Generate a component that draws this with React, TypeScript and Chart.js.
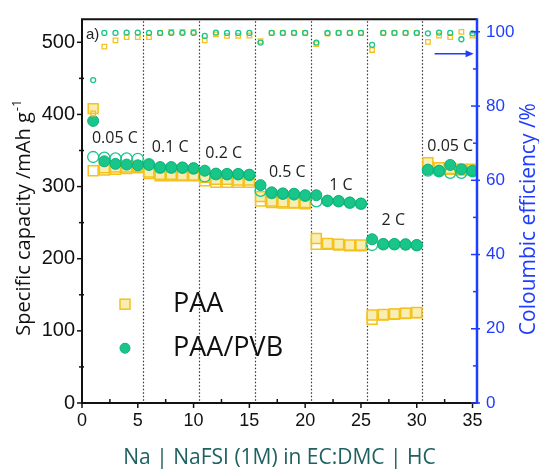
import React, { useEffect, useRef } from 'react';
import { Chart, registerables } from 'chart.js';

Chart.register(...registerables);

// ---------------- data ----------------
const cycles = [
  1, 2, 3, 4, 5, 6, 7, 8, 9, 10, 11, 12, 13, 14, 15, 16, 17, 18, 19, 20,
  21, 22, 23, 24, 25, 26, 27, 28, 29, 30, 31, 32, 33, 34, 35,
];

// PAA discharge (filled squares), mAh/g
const paaDischarge = [
  408, 326, 327, 327, 328,
  320, 317, 317, 316, 316,
  313, 310, 310, 309, 309,
  286, 280, 279, 278, 278,
  228, 221, 220, 219, 219,
  122, 122.7, 123.6, 124.6, 125.4,
  333, 326, 325, 324, 324,
];

// PAA charge (open squares), mAh/g
const paaCharge = [
  322, 323, 324, 325, 326,
  318, 315, 315, 315, 315,
  308, 306, 306, 306, 306,
  280, 278, 277, 277, 276,
  220, 220, 219, 218, 218,
  116, 122, 123, 124, 125,
  327, 325, 324, 323, 323,
];

// PAA/PVB discharge (filled circles), mAh/g
const pvbDischarge = [
  391, 335, 331.5, 330.5, 329.5,
  330, 327, 327, 326.5, 325.5,
  322, 318, 317.5, 317.5, 316.5,
  302, 292, 290.5, 290, 288,
  288, 280.5, 280, 278, 276.5,
  227, 220.5, 220.5, 220, 219,
  323.5, 322, 330, 324, 322,
];

// PAA/PVB charge (open circles), mAh/g
const pvbCharge = [
  341, 340, 339, 339, 338.5,
  331, 326, 326, 326, 325,
  314, 317, 317, 317, 316,
  294, 291, 290, 289, 287,
  279.5, 280, 279.5, 277.5, 276,
  219, 220, 220, 219.5, 218.5,
  322, 321, 319, 319, 321,
];

// Coulombic efficiency, %
const paaCE = [
  78, 96, 97.7, 98.6, 98.6,
  98.6, 99.7, 100, 100, 100,
  97.7, 99.3, 98.9, 98.9, 99.0,
  97.5, 99.7, 99.7, 99.7, 99.7,
  96.7, 99.5, 99.7, 99.7, 99.7,
  95.1, 99.7, 99.7, 99.7, 99.7,
  97.3, 99.0, 98.6, 100, 99.0,
];

const pvbCE = [
  87, 99.7, 99.7, 99.8, 99.8,
  99.7, 99.7, 99.7, 99.7, 99.7,
  98.9, 99.8, 99.7, 99.7, 99.7,
  97.1, 99.7, 99.7, 99.7, 99.7,
  97.1, 99.7, 99.7, 99.7, 99.7,
  96.5, 99.7, 99.7, 99.7, 99.7,
  99.6, 99.8, 99.7, 98.0, 99.6,
];

// rate annotations (anchor in data units: cycle, capacity)
const rateLabels = ['0.05 C', '0.1 C', '0.2 C', '0.5 C', '1 C', '2 C', '0.05 C'];
const rateLabelCycle = [2.95, 7.9, 12.7, 18.4, 23.2, 27.9, 33.0];
const rateLabelCapacity = [367, 354, 346, 319, 301.5, 253, 356];

// boundaries between rate steps
const rateBoundaries = [5.5, 10.5, 15.5, 20.5, 25.5, 30.5];

// axis ticks
const capMajorTicks = [0, 100, 200, 300, 400, 500];
const capMinorTicks = [50, 150, 250, 350, 450];
const ceMajorTicks = [0, 20, 40, 60, 80, 100];
const ceMinorTicks = [10, 30, 50, 70, 90];
const cycleMajorTicks = [0, 5, 10, 15, 20, 25, 30, 35];
const cycleMinorTicks = [2.5, 7.5, 12.5, 17.5, 22.5, 27.5, 32.5];

const legendLabels = ['PAA', 'PAA/PVB'];

// ---------------- styles ----------------
const YELLOW = '#F5C11C';
const YELLOW_FILL = '#F8EEB4';
const GREEN = '#17C688';
const GREEN_DARK = '#10B079';
const BLUE = '#1F3DFF';
const TEAL = '#1F6161';
const TEXT_FONT = '"Open Sans", "Noto Sans", sans-serif';
const NUM_FONT = '"Liberation Sans", Arial, sans-serif';

const pts = (arr: number[]) => cycles.map((c, i) => ({ x: c, y: arr[i] }));

const decorPlugin = {
  id: 'decor',
  beforeDatasetsDraw(chart: any) {
    const { ctx, chartArea } = chart;
    const x = chart.scales.x;
    const { top, bottom } = chartArea;
    ctx.save();
    // dotted separators
    ctx.strokeStyle = '#333';
    ctx.lineWidth = 1.2;
    ctx.setLineDash([1.5, 2]);
    rateBoundaries.forEach((b) => {
      const px = Math.round(x.getPixelForValue(b)) + 0.5;
      ctx.beginPath();
      ctx.moveTo(px, top + 2);
      ctx.lineTo(px, bottom - 2);
      ctx.stroke();
    });
    ctx.setLineDash([]);

    // rate labels
    ctx.fillStyle = '#222';
    ctx.font = `16px ${TEXT_FONT}`;
    ctx.textAlign = 'center';
    ctx.textBaseline = 'middle';
    rateLabels.forEach((t, i) => {
      ctx.fillText(
        t,
        x.getPixelForValue(rateLabelCycle[i]),
        chart.scales.y.getPixelForValue(rateLabelCapacity[i])
      );
    });
    ctx.restore();
  },
  afterDraw(chart: any) {
    const { ctx, chartArea } = chart;
    const { left, right, top, bottom } = chartArea;
    const x = chart.scales.x;
    const y = chart.scales.y;
    const y1 = chart.scales.y1;
    ctx.save();

    // frame
    ctx.lineWidth = 2;
    ctx.strokeStyle = '#111';
    ctx.beginPath();
    ctx.moveTo(left, bottom);
    ctx.lineTo(left, top);
    ctx.lineTo(right, top);
    ctx.moveTo(left - 1, bottom);
    ctx.lineTo(right, bottom);
    ctx.stroke();

    // left ticks
    ctx.lineWidth = 1.5;
    capMajorTicks.forEach((v) => {
      const py = y.getPixelForValue(v);
      ctx.beginPath();
      ctx.moveTo(left - 5, py);
      ctx.lineTo(left, py);
      ctx.stroke();
    });
    capMinorTicks.forEach((v) => {
      const py = y.getPixelForValue(v);
      ctx.beginPath();
      ctx.moveTo(left - 3, py);
      ctx.lineTo(left + 2, py);
      ctx.stroke();
    });
    // bottom ticks
    cycleMajorTicks.forEach((v) => {
      const px = x.getPixelForValue(v);
      ctx.beginPath();
      ctx.moveTo(px, bottom);
      ctx.lineTo(px, bottom + 5);
      ctx.stroke();
    });
    cycleMinorTicks.forEach((v) => {
      const px = x.getPixelForValue(v);
      ctx.beginPath();
      ctx.moveTo(px, bottom);
      ctx.lineTo(px, bottom - 4);
      ctx.stroke();
    });

    // right axis
    ctx.strokeStyle = BLUE;
    ctx.lineWidth = 2.5;
    ctx.beginPath();
    ctx.moveTo(right, top - 1);
    ctx.lineTo(right, bottom + 1);
    ctx.stroke();
    ctx.lineWidth = 1.5;
    ceMajorTicks.forEach((v) => {
      const py = y1.getPixelForValue(v);
      ctx.beginPath();
      ctx.moveTo(right - 6, py);
      ctx.lineTo(right + 3, py);
      ctx.stroke();
    });
    ceMinorTicks.forEach((v) => {
      const py = y1.getPixelForValue(v);
      ctx.beginPath();
      ctx.moveTo(right - 4, py);
      ctx.lineTo(right, py);
      ctx.stroke();
    });

    // arrow toward CE axis
    const ay = y1.getPixelForValue(94.1);
    const ax0 = x.getPixelForValue(31.6);
    const ax1 = x.getPixelForValue(35.1);
    ctx.strokeStyle = BLUE;
    ctx.fillStyle = BLUE;
    ctx.lineWidth = 1.5;
    ctx.beginPath();
    ctx.moveTo(ax0, ay);
    ctx.lineTo(ax1 - 6, ay);
    ctx.stroke();
    ctx.beginPath();
    ctx.moveTo(ax1, ay);
    ctx.lineTo(ax1 - 8, ay - 3.5);
    ctx.lineTo(ax1 - 8, ay + 3.5);
    ctx.closePath();
    ctx.fill();

    // panel label
    ctx.fillStyle = '#222';
    ctx.font = `15px ${NUM_FONT}`;
    ctx.textAlign = 'left';
    ctx.textBaseline = 'middle';
    ctx.fillText('a)', left + 4, top + 16);

    // legend
    const lx = left + 43;
    const tx = left + 91;
    const ly = [top + 285, top + 329];
    ctx.fillStyle = YELLOW_FILL;
    ctx.strokeStyle = YELLOW;
    ctx.lineWidth = 1.5;
    ctx.fillRect(lx - 5, ly[0] - 5, 10, 10);
    ctx.strokeRect(lx - 5, ly[0] - 5, 10, 10);
    ctx.fillStyle = GREEN;
    ctx.strokeStyle = GREEN_DARK;
    ctx.lineWidth = 1;
    ctx.beginPath();
    ctx.arc(lx, ly[1], 5, 0, Math.PI * 2);
    ctx.fill();
    ctx.stroke();
    ctx.fillStyle = '#111';
    ctx.font = `27px ${TEXT_FONT}`;
    ctx.textBaseline = 'middle';
    legendLabels.forEach((t, i) => ctx.fillText(t, tx, ly[i]));

    // left axis title
    ctx.save();
    ctx.translate(24, (top + bottom) / 2 + 7);
    ctx.rotate(-Math.PI / 2);
    ctx.fillStyle = '#111';
    const main = 'Specific capacity /mAh g';
    ctx.font = `20px ${TEXT_FONT}`;
    const mw = ctx.measureText(main).width;
    ctx.font = `13px ${TEXT_FONT}`;
    const sw = ctx.measureText('-1').width;
    const start = -(mw + sw) / 2;
    ctx.textAlign = 'left';
    ctx.textBaseline = 'middle';
    ctx.font = `20px ${TEXT_FONT}`;
    ctx.fillText(main, start, 0);
    ctx.font = `13px ${TEXT_FONT}`;
    ctx.fillText('-1', start + mw + 1, -7);
    ctx.restore();

    // right axis title
    ctx.save();
    ctx.translate(529, (top + bottom) / 2 + 8);
    ctx.rotate(-Math.PI / 2);
    ctx.fillStyle = BLUE;
    ctx.font = `21px ${TEXT_FONT}`;
    ctx.textAlign = 'center';
    ctx.textBaseline = 'middle';
    ctx.fillText('Coloumbic efficiency /%', 0, 0);
    ctx.restore();

    ctx.restore();
  },
};

export default function App() {
  const ref = useRef<HTMLCanvasElement | null>(null);

  useEffect(() => {
    if (!ref.current) return;
    const chart = new Chart(ref.current, {
      type: 'line',
      data: {
        datasets: [
          {
            label: 'PAA/PVB CE',
            data: pts(pvbCE),
            yAxisID: 'y1',
            showLine: false,
            pointStyle: 'circle',
            pointRadius: 2.5,
            pointBorderWidth: 1.3,
            pointBackgroundColor: 'rgba(255,255,255,0)',
            pointBorderColor: GREEN,
          },
          {
            label: 'PAA CE',
            data: pts(paaCE),
            yAxisID: 'y1',
            showLine: false,
            pointStyle: 'rect',
            pointRadius: 3.2,
            pointBorderWidth: 1.3,
            pointBackgroundColor: 'rgba(255,255,255,0)',
            pointBorderColor: YELLOW,
          },
          {
            label: 'PAA/PVB discharge',
            data: pts(pvbDischarge),
            yAxisID: 'y',
            showLine: false,
            pointStyle: 'circle',
            pointRadius: 5.5,
            pointBorderWidth: 1,
            pointBackgroundColor: GREEN,
            pointBorderColor: GREEN_DARK,
          },
          {
            label: 'PAA/PVB charge',
            data: pts(pvbCharge),
            yAxisID: 'y',
            showLine: false,
            pointStyle: 'circle',
            pointRadius: 5.5,
            pointBorderWidth: 1.3,
            pointBackgroundColor: 'rgba(255,255,255,0)',
            pointBorderColor: GREEN,
          },
          {
            label: 'PAA discharge',
            data: pts(paaDischarge),
            yAxisID: 'y',
            showLine: false,
            pointStyle: 'rect',
            pointRadius: 7,
            pointBorderWidth: 1.5,
            pointBackgroundColor: YELLOW_FILL,
            pointBorderColor: YELLOW,
          },
          {
            label: 'PAA charge',
            data: pts(paaCharge),
            yAxisID: 'y',
            showLine: false,
            pointStyle: 'rect',
            pointRadius: 7,
            pointBorderWidth: 1.5,
            pointBackgroundColor: 'rgba(255,255,255,0)',
            pointBorderColor: YELLOW,
          },
        ],
      },
      options: {
        responsive: false,
        animation: false,
        devicePixelRatio: 1,
        layout: { padding: { top: 6, left: 0, right: 0, bottom: 0 } },
        plugins: {
          legend: { display: false },
          tooltip: { enabled: false },
        },
        events: [],
        scales: {
          x: {
            type: 'linear',
            position: 'bottom',
            min: 0,
            max: 35.4,
            grid: { display: false, drawTicks: false },
            border: { display: false },
            ticks: {
              stepSize: 5,
              includeBounds: false,
              padding: 7,
              color: '#111',
              font: { family: NUM_FONT, size: 18 },
              maxRotation: 0,
            },
            title: {
              display: true,
              text: 'Na | NaFSI (1M) in EC:DMC | HC',
              color: TEAL,
              font: { family: TEXT_FONT, size: 21 },
              padding: { top: 0, bottom: 0 },
            },
            afterFit(scale: any) {
              scale.height = 68;
            },
          },
          y: {
            type: 'linear',
            position: 'left',
            min: 0,
            max: 532,
            grid: { display: false, drawTicks: false },
            border: { display: false },
            ticks: {
              stepSize: 100,
              includeBounds: false,
              padding: 7,
              color: '#111',
              font: { family: NUM_FONT, size: 20 },
            },
            afterFit(scale: any) {
              scale.width = 82;
            },
          },
          y1: {
            type: 'linear',
            position: 'right',
            min: 0,
            max: 103.4,
            grid: { display: false, drawTicks: false },
            border: { display: false },
            ticks: {
              stepSize: 20,
              includeBounds: false,
              padding: 9,
              color: BLUE,
              font: { family: NUM_FONT, size: 17 },
            },
            afterFit(scale: any) {
              scale.width = 62;
            },
          },
        },
      },
      plugins: [decorPlugin],
    } as any);
    return () => chart.destroy();
  }, []);

  return (
    <div style={{ position: 'absolute', left: 0, top: 0, width: 539, height: 471, background: '#fff' }}>
      <canvas ref={ref} width={539} height={471} style={{ display: 'block' }} />
    </div>
  );
}
